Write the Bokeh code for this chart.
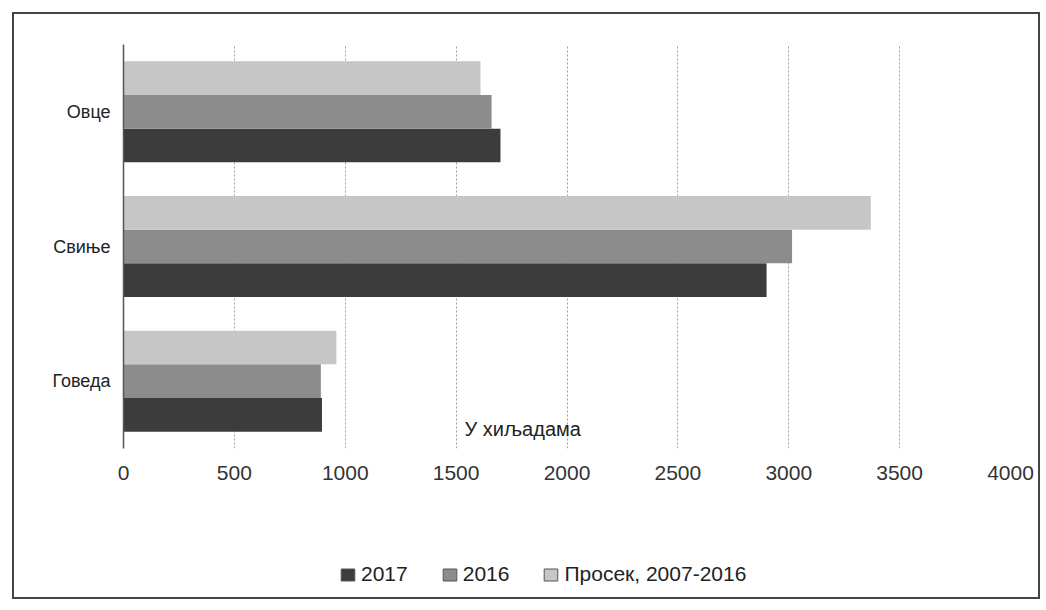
from bokeh.plotting import figure
from bokeh.layouts import column
from bokeh.models import ColumnDataSource, Legend, LegendItem, Label, FactorRange, Range1d
from bokeh.transform import dodge
from bokeh.embed import file_html
from bokeh.resources import INLINE

categories = ["Говеда", "Свиње", "Овце"]
v2017 = [895, 2900, 1700]
v2016 = [890, 3015, 1660]
avg_2007_2016 = [960, 3370, 1610]
series_names = ["2017", "2016", "Просек, 2007-2016"]
colors = ["#3c3c3c", "#8c8c8c", "#c6c6c6"]
x_ticks = [0, 500, 1000, 1500, 2000, 2500, 3000, 3500, 4000]

src = ColumnDataSource(dict(cat=categories, a=v2017, b=v2016, c=avg_2007_2016))

FONT = "Liberation Sans"
W = 1024

p = figure(width=W, height=470, y_range=FactorRange(*categories), x_range=Range1d(0, 4000),
           output_backend="svg", toolbar_location=None,
           min_border_left=109, min_border_right=28, min_border_top=30, min_border_bottom=36)
p.outline_line_color = None

p.hbar(y=dodge("cat", -0.25, range=p.y_range), right="a", height=0.25, source=src,
       fill_color=colors[0], line_color=None)
p.hbar(y=dodge("cat", 0.0, range=p.y_range), right="b", height=0.25, source=src,
       fill_color=colors[1], line_color=None)
p.hbar(y=dodge("cat", 0.25, range=p.y_range), right="c", height=0.25, source=src,
       fill_color=colors[2], line_color=None)

p.xaxis.ticker = x_ticks
p.xaxis.axis_line_color = None
p.xaxis.major_tick_line_color = None
p.xaxis.minor_tick_line_color = None
p.xaxis.major_label_text_font = FONT
p.xaxis.major_label_text_font_size = "21px"
p.xaxis.major_label_text_color = "#333333"
p.xaxis.major_label_standoff = 11

p.yaxis.axis_line_color = "#555555"
p.yaxis.axis_line_width = 1.5
p.yaxis.major_tick_line_color = None
p.yaxis.minor_tick_line_color = None
p.yaxis.major_label_text_font = FONT
p.yaxis.major_label_text_font_size = "18px"
p.yaxis.major_label_text_color = "#222222"
p.yaxis.major_label_standoff = 7

p.ygrid.grid_line_color = None
p.xgrid.grid_line_color = "#a0a0a0"
p.xgrid.grid_line_dash = "2 2"
p.xgrid.grid_line_width = 1

p.add_layout(Label(x=1538, y=9, y_units="screen", text="У хиљадама", text_font=FONT,
                   text_font_size="20px", text_color="#222222", text_baseline="bottom"))

# legend panel: hidden renderers from the same data, only their legend entries show
p2 = figure(width=W, height=113, x_range=Range1d(0, 4000), y_range=FactorRange(*categories),
            output_backend="svg", toolbar_location=None, x_axis_type=None, y_axis_type=None,
            min_border=0, min_border_left=0, min_border_right=0, min_border_top=0, min_border_bottom=0)
p2.outline_line_color = None
p2.xgrid.visible = False
p2.ygrid.visible = False
leg_r = [p2.hbar(y="cat", right=col, height=0.25, source=src, fill_color=c,
                 line_color="#555555", line_width=1, visible=False)
         for col, c in zip(["a", "b", "c"], colors)]
legend = Legend(items=[LegendItem(label=n, renderers=[r]) for n, r in zip(series_names, leg_r)],
                orientation="horizontal", location=(216, 11), click_policy="none",
                glyph_width=17, glyph_height=15, label_standoff=5, spacing=33,
                label_text_font=FONT, label_text_font_size="21px", label_text_color="#222222",
                border_line_color=None, background_fill_alpha=0, padding=0, margin=0)
p2.add_layout(legend, "center")

layout = column(p, p2, spacing=0, margin=(12, 0, 0, 12),
                styles={"border": "2px solid #444444"})

open("out.html", "w").write(file_html(layout, INLINE))
